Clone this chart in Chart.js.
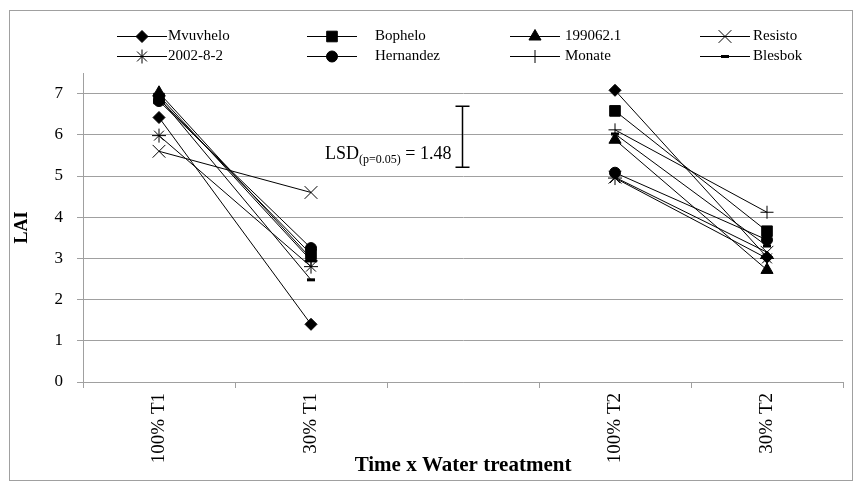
<!DOCTYPE html>
<html>
<head>
<meta charset="utf-8">
<script src="https://cdn.jsdelivr.net/npm/chart.js@4/dist/chart.umd.min.js"></script>
<style>
  body { margin: 0; background: #fff; }
  #wrap { width: 861px; height: 488px; }
</style>
</head>
<body>
<div id="wrap"><canvas id="laiChart" width="861" height="488"></canvas></div>
<script>
// Categories (middle one is an empty gap between T1 and T2)
const categories = ['100% T1', '30% T1', '', '100% T2', '30% T2'];

// LAI per cultivar
const mvuvhelo  = [6.42, 1.40, null, 7.08, 3.03];
const bophelo   = [6.88, 3.10, null, 6.58, 3.66];
const c199062   = [7.02, 3.00, null, 5.88, 2.72];
const resisto   = [5.60, 4.60, null, 4.97, 3.15];
const c2002     = [5.98, 2.80, null, 4.95, 3.00];
const hernandez = [6.82, 3.25, null, 5.08, 3.45];
const monate    = [6.95, 2.95, null, 6.12, 4.12];
const blesbok   = [6.90, 2.48, null, 6.02, 3.30];

const yTicks = [0, 1, 2, 3, 4, 5, 6, 7];

// LSD bar
const lsdValue = 1.48;
const lsdCentre = 5.95;

const font = '"Liberation Serif", "Times New Roman", serif';
const gridGray = '#a0a0a0';

function series(label, data, style, radius, width) {
  return {
    label: label,
    data: data,
    borderColor: '#000',
    backgroundColor: '#000',
    borderWidth: 1,
    pointStyle: style,
    pointRadius: radius,
    pointHoverRadius: radius,
    pointBorderWidth: width || 1,
    pointBackgroundColor: '#000',
    pointBorderColor: '#000',
    spanGaps: false,
    tension: 0
  };
}

const datasets = [
  series('Mvuvhelo', mvuvhelo, 'rectRot', 6),
  series('Bophelo', bophelo, 'rect', 7.5),
  series('199062.1', c199062, 'triangle', 7),
  series('Resisto', resisto, 'crossRot', 9),
  series('2002-8-2', c2002, 'star', 7),
  series('Hernandez', hernandez, 'circle', 5.5),
  series('Monate', monate, 'cross', 6.5),
  series('Blesbok', blesbok, 'line', 4, 3)
];

// Legend drawn in 4 fixed columns, 2 rows
const legendLineX = [117, 307, 510, 700];
const legendTextX = [168, 375, 565, 753];
const legendRowY = [36, 56];

const legendPlugin = {
  id: 'gridLegend',
  afterDraw(chart) {
    const ctx = chart.ctx;
    ctx.save();
    // outer frame
    ctx.strokeStyle = gridGray;
    ctx.lineWidth = 1;
    ctx.strokeRect(9.5, 10.5, 843, 470);

    chart.data.datasets.forEach(function(ds, i) {
      const col = i % 4, row = Math.floor(i / 4);
      const x0 = legendLineX[col], y = legendRowY[row] + 0.5;
      ctx.strokeStyle = '#000';
      ctx.fillStyle = '#000';
      ctx.lineWidth = 1;
      ctx.beginPath();
      ctx.moveTo(x0, y);
      ctx.lineTo(x0 + 50, y);
      ctx.stroke();
      ctx.lineWidth = ds.pointBorderWidth;
      Chart.helpers.drawPoint(ctx, {
        pointStyle: ds.pointStyle,
        radius: ds.pointRadius,
        borderWidth: ds.pointBorderWidth,
        rotation: 0
      }, x0 + 25, y);
      ctx.fillStyle = '#000';
      ctx.font = '15px ' + font;
      ctx.textAlign = 'left';
      ctx.textBaseline = 'middle';
      ctx.fillText(ds.label, legendTextX[col], y);
    });
    ctx.restore();
  }
};

const lsdPlugin = {
  id: 'lsd',
  afterDatasetsDraw(chart) {
    const ctx = chart.ctx;
    const xs = chart.scales.x, ys = chart.scales.y;
    const x = Math.round(xs.getPixelForValue(2)) - 0.5;
    const yTop = ys.getPixelForValue(lsdCentre + lsdValue / 2);
    const yBot = ys.getPixelForValue(lsdCentre - lsdValue / 2);
    ctx.save();
    ctx.strokeStyle = '#000';
    ctx.lineWidth = 1.5;
    ctx.beginPath();
    ctx.moveTo(x, yTop); ctx.lineTo(x, yBot);
    ctx.moveTo(x - 7, yTop); ctx.lineTo(x + 7, yTop);
    ctx.moveTo(x - 7, yBot); ctx.lineTo(x + 7, yBot);
    ctx.stroke();

    // label: LSD(p=0.05) = 1.48, right aligned left of the bar
    const base = ys.getPixelForValue(lsdCentre - 0.4) + 6;
    const big = '18px ' + font, small = '12px ' + font;
    const parts = [['LSD', big, 0], ['(p=0.05)', small, 4], [' = ' + lsdValue.toFixed(2), big, 0]];
    let w = 0;
    parts.forEach(function(p) { ctx.font = p[1]; w += ctx.measureText(p[0]).width; });
    let tx = x - 11 - w;
    ctx.fillStyle = '#000';
    ctx.textAlign = 'left';
    ctx.textBaseline = 'alphabetic';
    parts.forEach(function(p) {
      ctx.font = p[1];
      ctx.fillText(p[0], tx, base + p[2]);
      tx += ctx.measureText(p[0]).width;
    });
    ctx.restore();
  }
};

new Chart(document.getElementById('laiChart'), {
  type: 'line',
  data: { labels: categories, datasets: datasets },
  plugins: [legendPlugin, lsdPlugin],
  options: {
    responsive: false,
    animation: false,
    events: [],
    layout: { padding: { left: 10, right: 18, top: 73, bottom: 10 } },
    plugins: {
      legend: { display: false },
      tooltip: { enabled: false }
    },
    scales: {
      x: {
        type: 'category',
        offset: true,
        grid: {
          offset: true,
          drawOnChartArea: false,
          drawTicks: true,
          tickLength: 6,
          tickColor: gridGray
        },
        border: { color: gridGray, width: 1 },
        ticks: {
          autoSkip: false,
          minRotation: 90,
          maxRotation: 90,
          padding: 5,
          color: '#000',
          font: { family: font, size: 19 }
        },
        title: {
          display: true,
          text: 'Time x Water treatment',
          color: '#000',
          font: { family: font, size: 21, weight: 'bold' },
          padding: { top: 0, bottom: 0 }
        },
        afterFit(scale) { scale.height = 96; }
      },
      y: {
        min: 0,
        max: 7.5,
        ticks: {
          stepSize: 1,
          padding: 14,
          color: '#000',
          font: { family: font, size: 17 }
        },
        afterBuildTicks(scale) {
          scale.ticks = yTicks.map(function(v) { return { value: v }; });
        },
        grid: {
          color: gridGray,
          tickColor: gridGray,
          tickLength: 6,
          drawTicks: true
        },
        border: { color: gridGray, width: 1 },
        title: {
          display: true,
          text: 'LAI',
          color: '#000',
          font: { family: font, size: 18, weight: 'bold' },
          padding: { top: 2, bottom: 0 }
        },
        afterFit(scale) { scale.width = 73; }
      }
    }
  }
});
</script>
</body>
</html>
